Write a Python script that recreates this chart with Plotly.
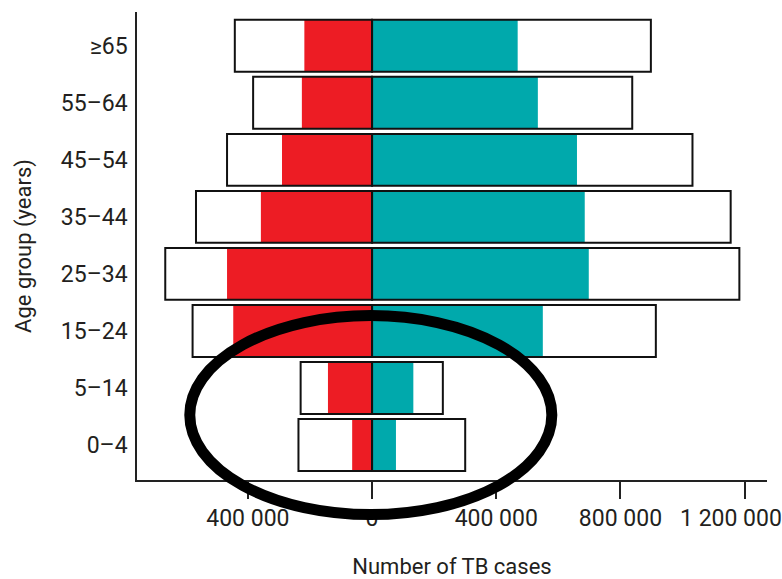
import plotly.graph_objects as go

# ---- data ----
age_groups = ["0–4", "5–14", "15–24", "25–34", "35–44", "45–54", "55–64", "≥65"]
female_estimated = [237000, 230000, 578000, 666000, 567000, 467000, 383000, 442000]
female_notified = [64000, 142000, 447000, 467000, 358000, 290000, 226000, 218000]
male_notified = [77000, 133000, 550000, 698000, 685000, 660000, 534000, 469000]
male_estimated = [300000, 228000, 914000, 1183000, 1155000, 1032000, 838000, 898000]

tick_values = [-400000, 0, 400000, 800000, 1200000]
tick_labels = ["400 000", "0", "400 000", "800 000", ""]
last_tick_value = 1200000
last_tick_label = "1 200 000"

# highlight ellipse (data units: x in cases, y in category index)
ellipse_x = [-587000, 579000]
ellipse_y = [-1.22, 2.27]

x_range = [-757000, 1272000]
y_range = [-0.613, 7.592]

RED = "#ED1C24"
TEAL = "#00A9AC"
TXT = "#231F20"
FONT = "Roboto, sans-serif"
TICK_SIZE = 23
TITLE_SIZE = 22

ypos = list(range(len(age_groups)))
neg = lambda v: [-a for a in v]
BW = 0.91

fig = go.Figure()
fig.add_trace(go.Bar(y=ypos, x=neg(female_notified), orientation="h", width=BW,
                     marker=dict(color=RED, line=dict(width=0)), showlegend=False))
fig.add_trace(go.Bar(y=ypos, x=male_notified, orientation="h", width=BW,
                     marker=dict(color=TEAL, line=dict(width=0)), showlegend=False))
fig.add_trace(go.Bar(y=ypos, x=neg(female_estimated), orientation="h", width=BW,
                     marker=dict(color="rgba(0,0,0,0)", line=dict(color="#111", width=2)),
                     showlegend=False))
fig.add_trace(go.Bar(y=ypos, x=male_estimated, orientation="h", width=BW,
                     marker=dict(color="rgba(0,0,0,0)", line=dict(color="#111", width=2)),
                     showlegend=False))

def px(v):
    return (v - x_range[0]) / (x_range[1] - x_range[0])

def py(v):
    return (v - y_range[0]) / (y_range[1] - y_range[0])

fig.add_shape(type="circle", xref="paper", yref="paper",
              x0=px(ellipse_x[0]), x1=px(ellipse_x[1]),
              y0=py(ellipse_y[0]), y1=py(ellipse_y[1]),
              line=dict(color="black", width=11), layer="above")

# last x tick label, nudged left so it stays inside the picture (as in the source)
fig.add_annotation(x=last_tick_value, xref="x", y=0, yref="paper", yanchor="top",
                   text=last_tick_label, showarrow=False, xshift=-14, yshift=-23,
                   font=dict(family=FONT, size=TICK_SIZE, color=TXT))

fig.update_layout(
    template="none",
    width=782, height=579,
    margin=dict(l=137, r=15, t=12, b=99),
    paper_bgcolor="white", plot_bgcolor="white",
    barmode="overlay",
    font=dict(family=FONT, size=TICK_SIZE, color=TXT),
    xaxis=dict(range=x_range, tickvals=tick_values, ticktext=tick_labels,
               automargin=False,
               showgrid=False, zeroline=False, showline=True, linecolor="#222",
               linewidth=1.5, ticks="outside", ticklen=17, tickwidth=2, tickcolor="#222",
               tickfont=dict(size=TICK_SIZE),
               title=dict(text="Number of TB cases", standoff=28, font=dict(size=TITLE_SIZE))),
    yaxis=dict(range=y_range, tickvals=ypos, ticktext=age_groups,
               automargin=False,
               showgrid=False, zeroline=False, showline=True, linecolor="#222",
               linewidth=1.5, ticks="", ticklabelstandoff=3,
               tickfont=dict(size=TICK_SIZE),
               title=dict(text="Age group (years)", standoff=23, font=dict(size=TITLE_SIZE))),
)

fig.write_html("out.html", config={"displayModeBar": False},
               post_script="document.body.style.margin='0';")
